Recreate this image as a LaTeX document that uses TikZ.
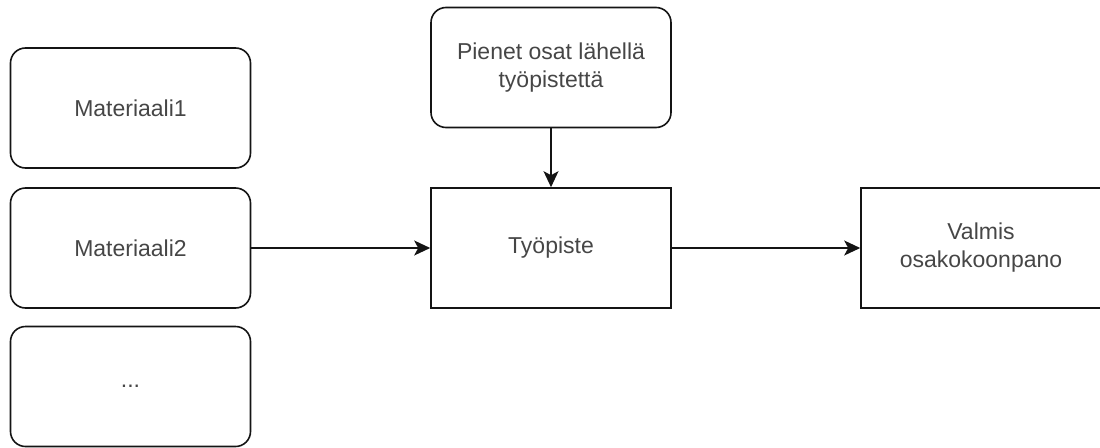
\documentclass[tikz,border=0pt]{standalone}
\usepackage{fontspec}
\setmainfont{Liberation Sans}
\usetikzlibrary{arrows.meta}
\definecolor{txt}{RGB}{70,70,70}
\definecolor{ln}{RGB}{20,20,20}
\tikzset{
  box/.style={draw=ln, line width=1.6pt, minimum width=240pt, minimum height=120pt,
    inner sep=0pt, align=center, text=txt, font=\fontsize{23}{28}\selectfont},
  rbox/.style={box, rounded corners=15pt},
  flow/.style={draw=ln, line width=1.6pt, -{Stealth[length=16pt,width=15pt,inset=4pt]}}
}
\begin{document}
\begin{tikzpicture}[x=1pt,y=-1pt]
\useasboundingbox (0,0) rectangle (1100,447);
% material stacks on the left
\node[rbox] (m1) at (130.5,108) {Materiaali1};
\node[rbox] (m2) at (130.5,248) {Materiaali2};
\node[rbox] (m3) at (130.5,386.5) {...};
% small parts and the work station
\node[rbox] (parts) at (551,67.5) {Pienet osat lähellä\\työpistettä};
\node[box] (ws) at (551,248) {Työpiste};
% finished subassembly
\node[box] (out) at (981,248) {Valmis\\osakokoonpano};
% flow
\draw[flow] (m2.east) -- (ws.west);
\draw[flow] (parts.south) -- (ws.north);
\draw[flow] (ws.east) -- (out.west);
\end{tikzpicture}
\end{document}
